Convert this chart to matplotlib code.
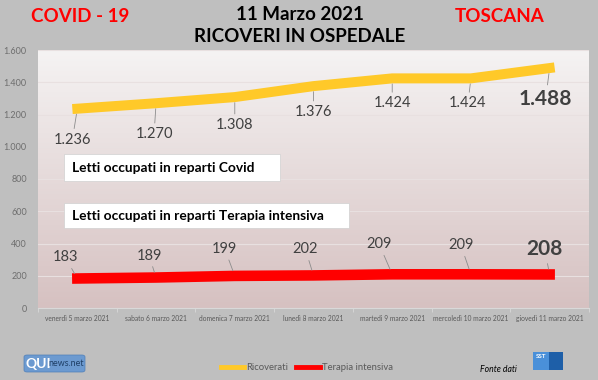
import numpy as np
import matplotlib
matplotlib.use("Agg")
import matplotlib.pyplot as plt
from matplotlib.patches import FancyBboxPatch, Rectangle

plt.rcParams['font.family'] = ['Lato', 'DejaVu Sans']

# data
dates = ["venerdì 5 marzo 2021", "sabato 6 marzo 2021", "domenica 7 marzo 2021",
         "lunedì 8 marzo 2021", "martedì 9 marzo 2021", "mercoledì 10 marzo 2021",
         "giovedì 11 marzo 2021"]
ricoverati = [1236, 1270, 1308, 1376, 1424, 1424, 1488]
terapia = [183, 189, 199, 202, 209, 209, 208]
yticks = [0, 200, 400, 600, 800, 1000, 1200, 1400, 1600]

def fmt(v):
    return f"{v:,}".replace(",", ".")

BG = "#BFBFBF"
fig = plt.figure(figsize=(5.98, 3.8), dpi=100, facecolor=BG)
ax = fig.add_axes([38/598, 72/380, 551/598, 258/380])
ax.set_facecolor("none")

# gradient plot background
grad = np.linspace(0, 1, 256).reshape(-1, 1)
top = np.array([0xF5, 0xF3, 0xF3]) / 255
bot = np.array([0xD6, 0xC1, 0xC1]) / 255
img = top[None, None, :] * (1 - grad[:, :, None]) + bot[None, None, :] * grad[:, :, None]
ax.imshow(img, extent=[0, 1, 0, 1], transform=ax.transAxes, aspect='auto', zorder=0)

x = np.arange(len(dates))
ax.set_xlim(-0.5, 6.5)
ax.set_ylim(0, 1600)
for y in yticks[1:]:
    ax.axhline(y, color="#E8E0E0", lw=0.8, zorder=1)

ax.plot(x, ricoverati, color="#FFC929", lw=7.2, solid_capstyle='projecting', zorder=3)
ax.plot(x, terapia, color="#FF0000", lw=7.6, solid_capstyle='projecting', zorder=3)

leader = dict(arrowstyle='-', color="#8C8C8C", lw=0.6, shrinkA=1, shrinkB=4)
r_off = [(-5, -31), (-2, -31), (0, -28), (0, -26), (0, -25), (-3, -25), (-4, -31)]
for i, v in enumerate(ricoverati):
    last = i == len(x) - 1
    ax.annotate(fmt(v), xy=(x[i], v), xytext=r_off[i], textcoords='offset pixels',
                ha='center', va='center', fontsize=15 if last else 10.5,
                fontweight='bold' if last else 'normal', color="#404040",
                arrowprops=leader, zorder=4)

t_off = [(-12, 21), (-7, 22), (-10, 27), (-8, 26), (-13, 30), (-10, 29), (-5, 25)]
for i, v in enumerate(terapia):
    last = i == len(x) - 1
    ax.annotate(fmt(v), xy=(x[i], v), xytext=t_off[i], textcoords='offset pixels',
                ha='center', va='center', fontsize=15 if last else 10.5,
                fontweight='bold' if last else 'normal', color="#404040",
                arrowprops=leader, zorder=4)

# text boxes
for (x0, y0, w, h, txt) in [(64, 154, 216, 27, "Letti occupati in reparti Covid"),
                            (64, 203, 285, 25, "Letti occupati in reparti Terapia intensiva")]:
    fig.patches.append(Rectangle((x0/598, 1 - (y0 + h)/380), w/598, h/380,
                                 transform=fig.transFigure, facecolor="white",
                                 edgecolor="#D0D0D0", lw=0.5, zorder=5))
    fig.text((x0 + 8)/598, 1 - (y0 + h/2)/380, txt, fontsize=9.9, fontweight='bold',
             color="black", ha='left', va='center', zorder=6)

ax.set_yticks(yticks)
ax.set_yticklabels([fmt(v) for v in yticks])
ax.set_xticks(x)
ax.set_xticklabels(dates)
ax.tick_params(axis='y', length=0, labelsize=6.5, labelcolor="#6E6E6E", pad=8)
ax.tick_params(axis='x', length=0, labelsize=4.8, labelcolor="#595959", pad=5)
ax.set_xticks(np.arange(-0.5, 7, 1), minor=True)
ax.tick_params(axis='x', which='minor', length=3, color="#D9D9D9")
for s in ['top', 'right', 'left']:
    ax.spines[s].set_visible(False)
ax.spines['bottom'].set_color("#D9D9D9")

# titles
fig.text(80/598, 1 - 17/380, "COVID - 19", color="#FF0000", fontsize=13.5, fontweight='bold',
         ha='center', va='center')
fig.text(500/598, 1 - 17/380, "TOSCANA", color="#FF0000", fontsize=13.5, fontweight='bold',
         ha='center', va='center')
fig.text(300/598, 1 - 14/380, "11 Marzo 2021", color="black", fontsize=13.5, fontweight='bold',
         ha='center', va='center')
fig.text(300/598, 1 - 37/380, "RICOVERI IN OSPEDALE", color="black", fontsize=13.5,
         fontweight='bold', ha='center', va='center')

# legend
ly = 1 - 367/380
fig.add_artist(plt.Line2D([221/598, 244/598], [ly, ly], color="#FFC929", lw=3.5,
                          transform=fig.transFigure))
fig.text(246/598, ly, "Ricoverati", fontsize=6.8, color="#595959", va='center')
fig.add_artist(plt.Line2D([296/598, 320/598], [ly, ly], color="#FF0000", lw=3.5,
                          transform=fig.transFigure))
fig.text(322/598, ly, "Terapia intensiva", fontsize=6.8, color="#595959", va='center')
fig.text(480/598, 1 - 369/380, "Fonte dati", fontsize=6.2, style='italic', color="black",
         va='center')

# logos
fig.patches.append(FancyBboxPatch((24/598, 1 - 372/380), 61/598, 17/380,
                                  boxstyle="round,pad=0,rounding_size=0.005",
                                  transform=fig.transFigure, facecolor="#6C9AD0",
                                  edgecolor="#4F7FB8", lw=0.5))
fig.text(25/598, 1 - 363.5/380, "QUI", fontsize=10, fontweight='bold', color="white", va='center')
fig.text(48/598, 1 - 364/380, "news.net", fontsize=6.4, color="#1F3F66", va='center')
fig.patches.append(Rectangle((533/598, 1 - 370/380), 16/598, 18/380,
                             transform=fig.transFigure, facecolor="#4A90D9", lw=0))
fig.patches.append(Rectangle((549/598, 1 - 370/380), 14/598, 18/380,
                             transform=fig.transFigure, facecolor="#1E5FA8", lw=0))
fig.text(541/598, 1 - 357/380, "SST", fontsize=4.5, fontweight='bold', color="white",
         ha='center', va='center')

fig.savefig("out.png", dpi=100, facecolor=BG)
